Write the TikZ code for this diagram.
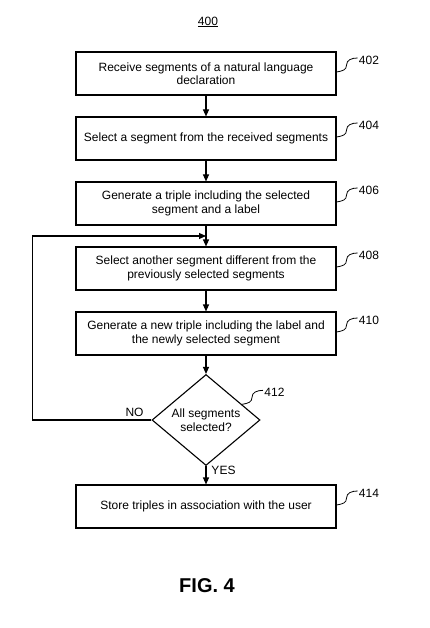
\documentclass[tikz,border=0pt]{standalone}
\usepackage{fontspec}
\setmainfont{Liberation Sans}
\usetikzlibrary{shapes.geometric,arrows.meta,calc}
\newcommand\refmark[3]{%
  \draw[refline] (#1) .. controls +(6,-1) and +(0,5) .. ++(10,-7) .. controls +(0,-5) and +(-6,0) .. ++(11,-7)
    node[reflabel] (#2) {#3};}
\begin{document}
\begin{tikzpicture}[x=1pt,y=-1pt,
  font=\fontsize{12}{13.5}\selectfont,
  box/.style={draw,line width=1.1pt,minimum width=260pt,minimum height=43pt,align=center,inner sep=2pt},
  dec/.style={draw,diamond,line width=1.1pt,minimum width=108pt,minimum height=86pt,align=center,inner sep=0pt},
  arr/.style={line width=1.1pt,-{Triangle[length=7pt,width=6pt]}},
  refline/.style={line width=0.8pt},
  reflabel/.style={anchor=west,inner sep=1pt,yshift=-2pt},
  plain/.style={inner sep=1pt}]
\useasboundingbox (0,0) rectangle (429,628);
\node[plain] (t400) at (208,22) {\underline{400}};
\node[box] (b402) at (206,73.5) {Receive segments of a natural language\\declaration};
\node[box] (b404) at (206,138.5) {Select a segment from the received segments};
\node[box] (b406) at (206,203.5) {Generate a triple including the selected\\segment and a label};
\node[box] (b408) at (206,268.5) {Select another segment different from the\\previously selected segments};
\node[box] (b410) at (206,333.5) {Generate a new triple including the label and\\the newly selected segment};
\node[dec] (d412) at (206,420) {All segments\\selected?};
\node[box] (b414) at (206,506.5) {Store triples in association with the user};
\node[plain] (no) at (134.5,412) {NO};
\node[plain] (yes) at (223.5,470) {YES};
\node[plain,font=\fontsize{20}{24}\selectfont\bfseries] (fig) at (207,585.5) {FIG. 4};
\coordinate (lp) at (206,236);
\draw[arr] (b402.south) -- (b404.north);
\draw[arr] (b404.south) -- (b406.north);
\draw[arr] (b406.south) -- (b408.north);
\draw[arr] (b408.south) -- (b410.north);
\draw[arr] (b410.south) -- (d412.north);
\draw[arr] (d412.south) -- (b414.north);
\draw[arr] (d412.west) -- ++(-119,0) |- (lp);
\coordinate (s402) at ([yshift=1.5pt]b402.east);
\coordinate (s404) at ([yshift=1.5pt]b404.east);
\coordinate (s406) at ([yshift=1.5pt]b406.east);
\coordinate (s408) at ([yshift=1.5pt]b408.east);
\coordinate (s410) at ([yshift=1.5pt]b410.east);
\coordinate (s414) at ([yshift=1.5pt]b414.east);
\coordinate (s412) at ($(d412.north)!0.66!(d412.east)$);
\refmark{s402}{r402}{402}
\refmark{s404}{r404}{404}
\refmark{s406}{r406}{406}
\refmark{s408}{r408}{408}
\refmark{s410}{r410}{410}
\refmark{s412}{r412}{412}
\refmark{s414}{r414}{414}
\end{tikzpicture}
\end{document}
